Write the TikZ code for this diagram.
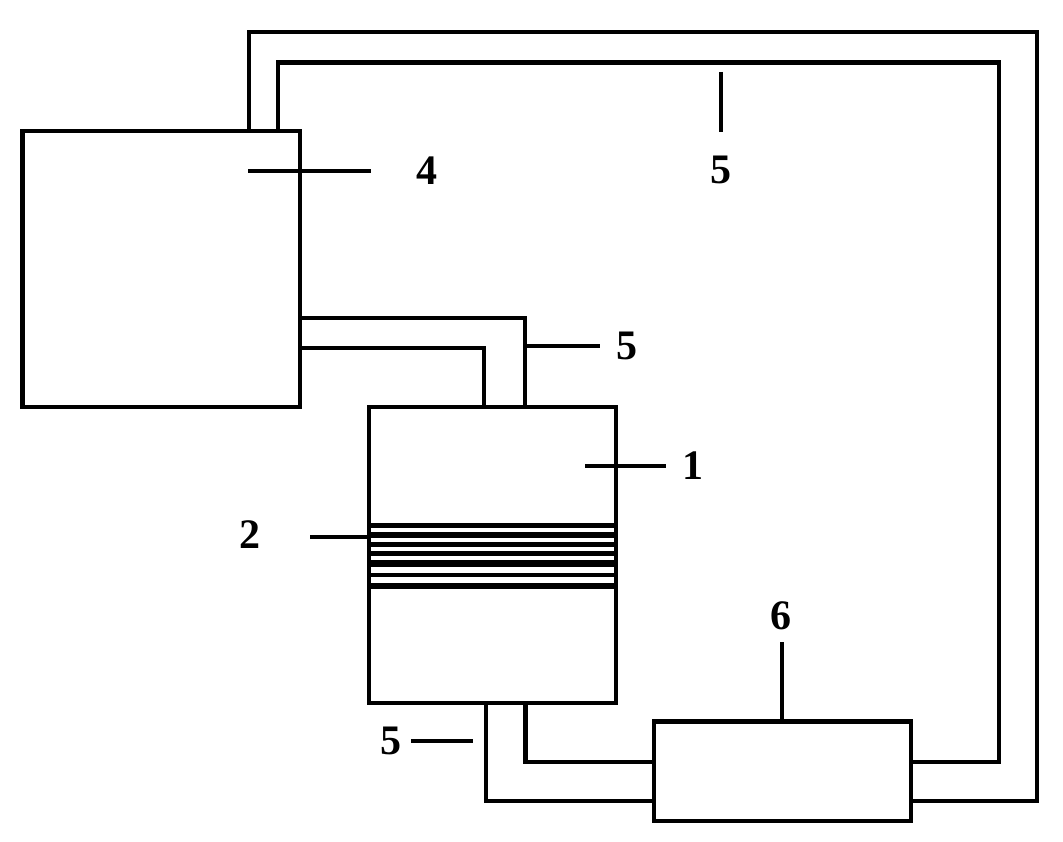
\documentclass[tikz,border=0pt]{standalone}
\usepackage{fontspec}
\setmainfont{Liberation Serif}
\tikzset{
  box/.style={draw=black,line width=4.6pt,inner sep=0pt,outer sep=0pt,anchor=south west},
  pipe/.style={draw=black,line width=4.4pt,line join=miter},
  lead/.style={draw=black,line width=3.6pt},
  lab/.style={font=\fontsize{42}{42}\selectfont\bfseries,text=black,inner sep=0pt}
}
\begin{document}
\begin{tikzpicture}[x=1pt,y=-1pt]
\useasboundingbox (0,0) rectangle (1063,842);
% pipes
\coordinate (p1a) at (249,131); \coordinate (p1b) at (249,32); \coordinate (p1c) at (1037,32); \coordinate (p1d) at (1037,801); \coordinate (p1e) at (911,801);
\coordinate (p2a) at (278,131); \coordinate (p2b) at (278,62.5); \coordinate (p2c) at (999,62.5); \coordinate (p2d) at (999,762); \coordinate (p2e) at (911,762);
\draw[pipe] (p1a)--(p1b)--(p1c)--(p1d)--(p1e);
\draw[pipe] (p2a)--(p2b)--(p2c)--(p2d)--(p2e);
\coordinate (p3a) at (300,318); \coordinate (p3b) at (525,318); \coordinate (p3c) at (525,407);
\coordinate (p4a) at (300,348); \coordinate (p4b) at (484,348); \coordinate (p4c) at (484,407);
\draw[pipe] (p3a)--(p3b)--(p3c);
\draw[pipe] (p4a)--(p4b)--(p4c);
\coordinate (p5a) at (525.5,703); \coordinate (p5b) at (525.5,762); \coordinate (p5c) at (654,762);
\coordinate (p6a) at (486,703); \coordinate (p6b) at (486,801); \coordinate (p6c) at (654,801);
\draw[pipe] (p5a)--(p5b)--(p5c);
\draw[pipe] (p6a)--(p6b)--(p6c);
% boxes
\node[box,minimum width=277.5pt,minimum height=276pt] (b4) at (22.5,407) {};
\node[box,minimum width=247pt,minimum height=296pt] (b1) at (369,703) {};
\node[box,minimum width=257pt,minimum height=99.5pt] (b6) at (654,821) {};
% layers
\foreach \y/\w in {525/5,535/5.5,544.5/5,553.5/5,563.5/6.5,575/4.5,586/6}
  \draw[line width=\w pt] (b1.west |- 0,\y) -- (b1.east |- 0,\y);
% labels
\node[lab] (l4) at (427,171) {4};
\node[lab] (l5a) at (721,170) {5};
\node[lab] (l5b) at (627,346) {5};
\node[lab] (l1) at (693,466) {1};
\node[lab] (l2) at (250,535) {2};
\node[lab] (l6) at (781,616) {6};
\node[lab] (l5c) at (391,741) {5};
% leaders
\coordinate (c4) at (248,171); \coordinate (c4e) at (371,171);
\draw[lead] (c4)--(c4e);
\coordinate (c5a) at (721,72); \coordinate (c5ae) at (721,132);
\draw[lead] (c5a)--(c5ae);
\coordinate (c5b) at (527,346); \coordinate (c5be) at (600,346);
\draw[lead] (c5b)--(c5be);
\coordinate (c1) at (585,466); \coordinate (c1e) at (666,466);
\draw[lead] (c1)--(c1e);
\coordinate (c2) at (310,537); \coordinate (c2e) at (368,537);
\draw[lead] (c2)--(c2e);
\coordinate (c6) at (782,642); \coordinate (c6e) at (782,721);
\draw[lead] (c6)--(c6e);
\coordinate (c5c) at (411,741); \coordinate (c5ce) at (473,741);
\draw[lead] (c5c)--(c5ce);
\end{tikzpicture}
\end{document}
